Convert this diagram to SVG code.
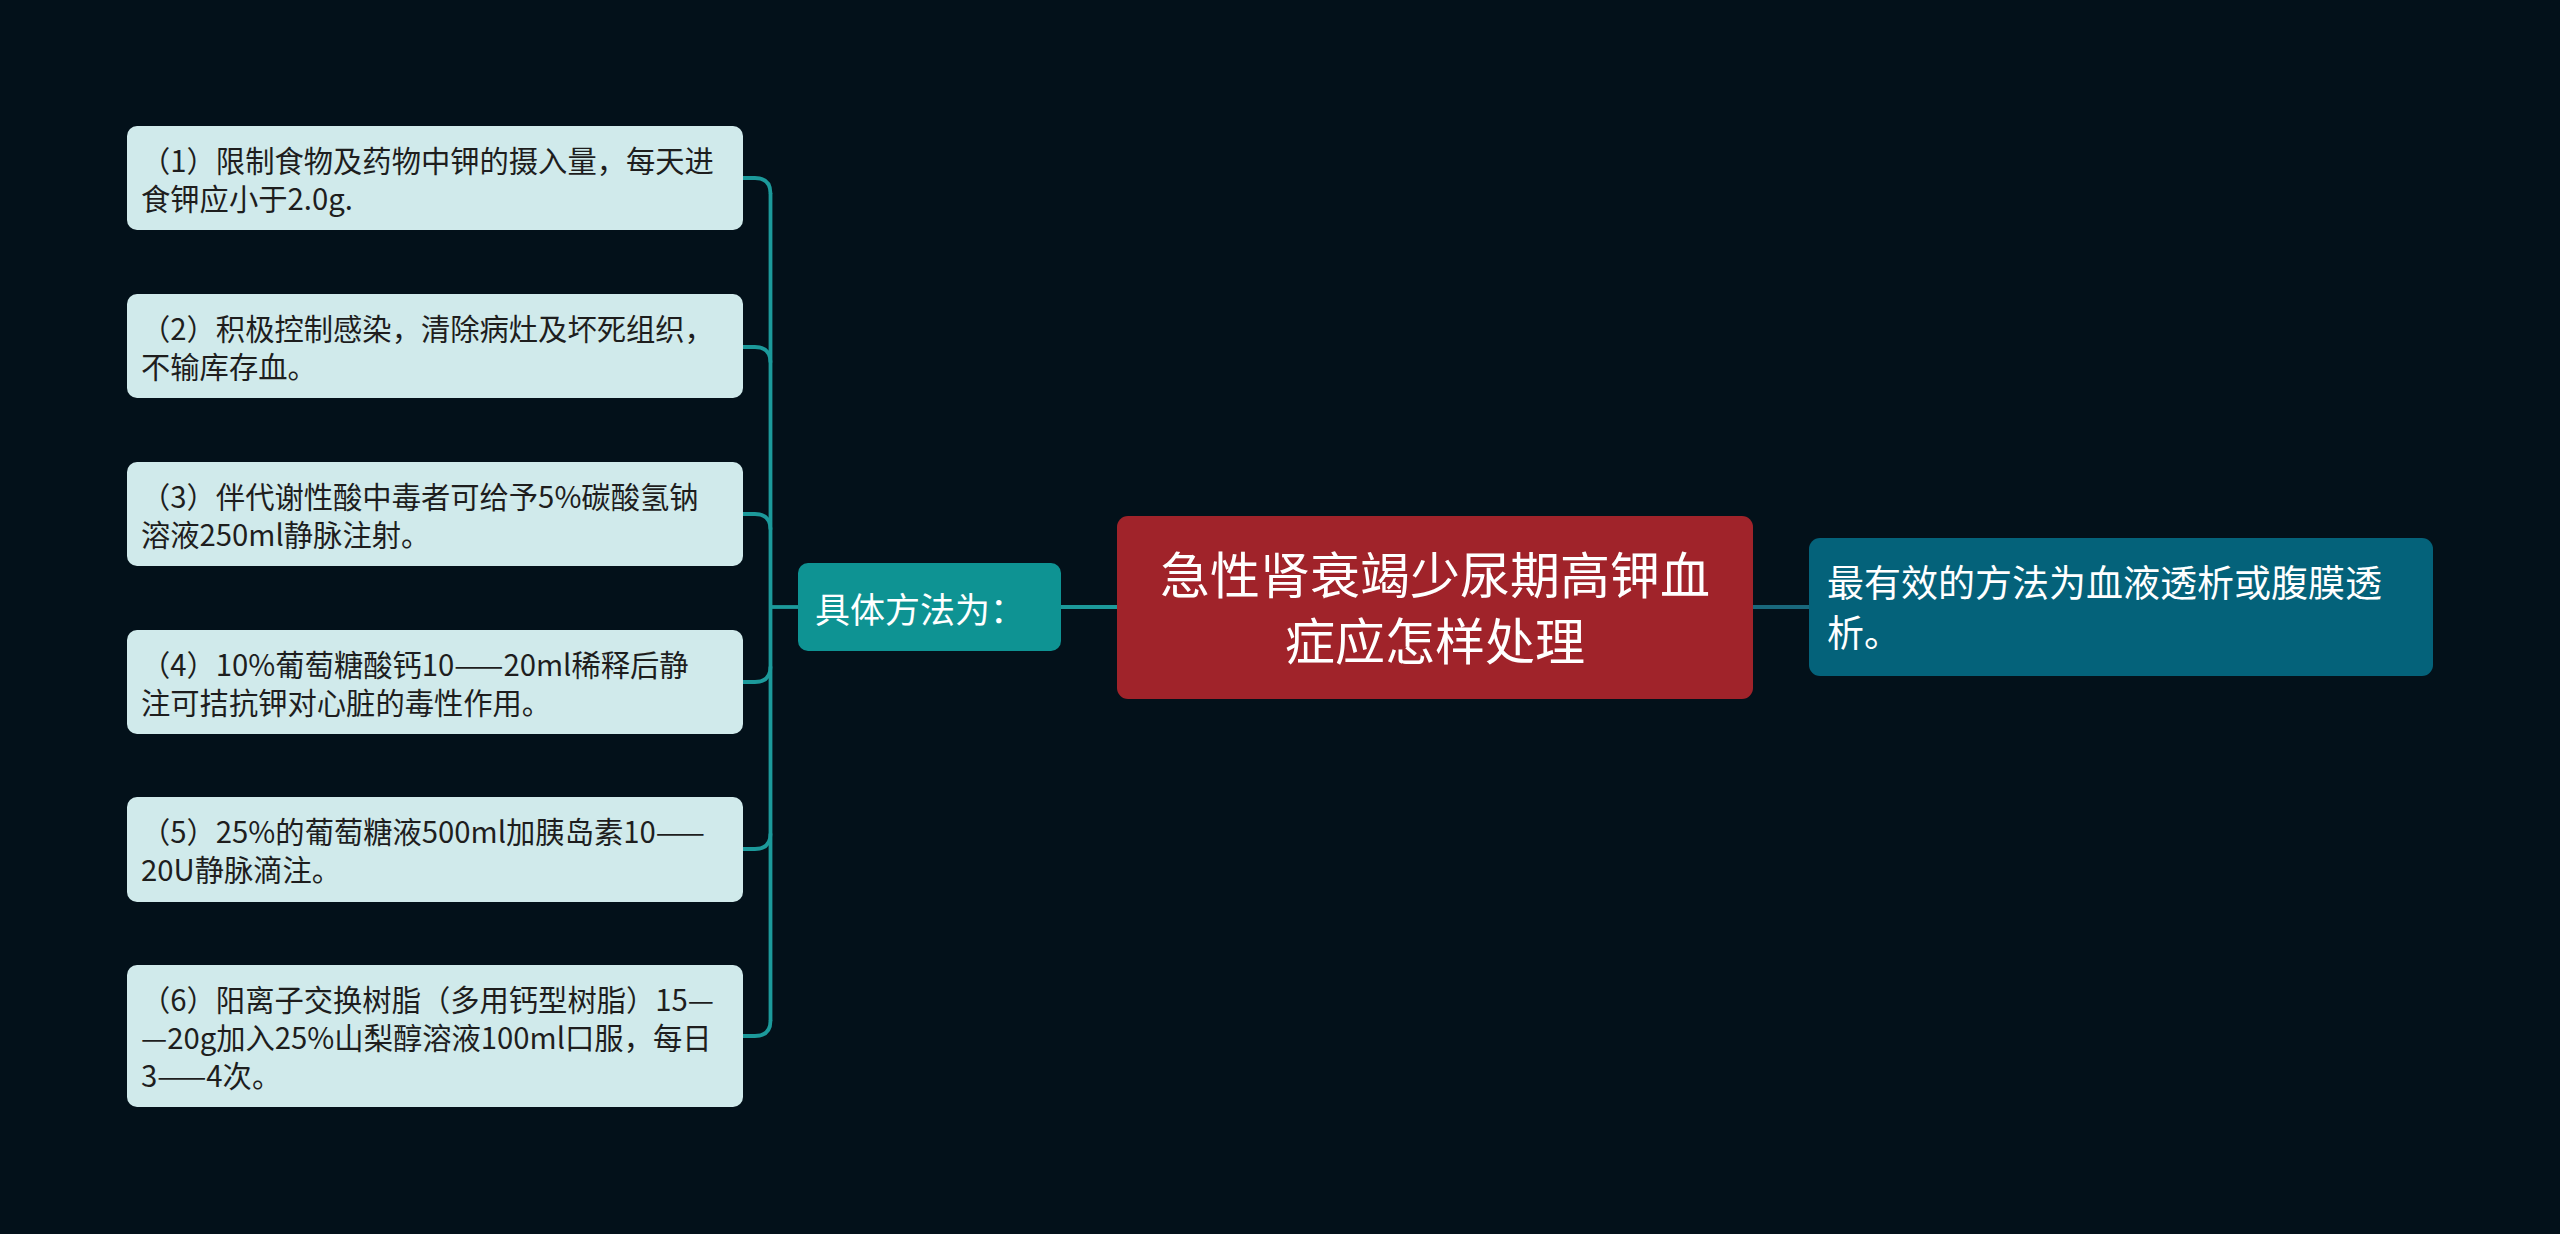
<svg xmlns="http://www.w3.org/2000/svg" width="2560" height="1234" viewBox="0 0 2560 1234">
<style>
.leaf rect{fill:#d0eaeb;}
.leaf text{font-family:"Noto Sans CJK SC","Noto Sans",sans-serif;font-size:29.3px;fill:#1e1e1e;}
.wt{font-family:"Noto Sans CJK SC","Noto Sans",sans-serif;fill:#ffffff;}
.conn{fill:none;stroke:#1c9a9b;stroke-width:3.8;}
</style>
<rect x="0" y="0" width="2560" height="1234" fill="#03111a"/>
<g id="connectors">
<path class="conn" d="M770.5,193 V1021"/>
<path class="conn" d="M742,178 H755 Q770.5,178 770.5,193.5"/>
<path class="conn" d="M742,347 H755 Q770.5,347 770.5,362.5"/>
<path class="conn" d="M742,514 H755 Q770.5,514 770.5,529.5"/>
<path class="conn" d="M742,682 H755 Q770.5,682 770.5,666.5"/>
<path class="conn" d="M742,849 H755 Q770.5,849 770.5,833.5"/>
<path class="conn" d="M742,1036 H755 Q770.5,1036 770.5,1020.5"/>
<path class="conn" d="M770.5,607 H800"/>
<path class="conn" d="M1060,607 H1118" stroke-width="4"/>
<path class="conn" d="M1752,607 H1810" style="stroke:#19687c"/>
</g>
<g id="center">
<rect x="1117" y="516" width="636" height="183" rx="11" fill="#a0232a"/>
<text class="wt" font-size="50" text-anchor="middle" x="1435" y="594">急性肾衰竭少尿期高钾血</text>
<text class="wt" font-size="50" text-anchor="middle" x="1435" y="660">症应怎样处理</text>
</g>
<g id="branch">
<rect x="798" y="563" width="263" height="88" rx="10" fill="#0e9393"/>
<text class="wt" font-size="35" x="815" y="623">具体方法为：</text>
</g>
<g id="right">
<rect x="1809" y="538" width="624" height="138" rx="11" fill="#04627a"/>
<text class="wt" font-size="37" x="1827" y="597">最有效的方法为血液透析或腹膜透</text>
<text class="wt" font-size="37" x="1827" y="647">析。</text>
</g>
<g id="leaf1" class="leaf">
<rect x="127" y="126" width="616" height="104" rx="10"/>
<text x="141" y="172">（1）限制食物及药物中钾的摄入量，每天进</text>
<text x="141" y="210">食钾应小于2.0g.</text>
</g>
<g id="leaf2" class="leaf">
<rect x="127" y="294" width="616" height="104" rx="10"/>
<text x="141" y="340">（2）积极控制感染，清除病灶及坏死组织，</text>
<text x="141" y="378">不输库存血。</text>
</g>
<g id="leaf3" class="leaf">
<rect x="127" y="462" width="616" height="104" rx="10"/>
<text x="141" y="508">（3）伴代谢性酸中毒者可给予5%碳酸氢钠</text>
<text x="141" y="546">溶液250ml静脉注射。</text>
</g>
<g id="leaf4" class="leaf">
<rect x="127" y="630" width="616" height="104" rx="10"/>
<text x="141" y="676">（4）10%葡萄糖酸钙10——20ml稀释后静</text>
<text x="141" y="714">注可拮抗钾对心脏的毒性作用。</text>
</g>
<g id="leaf5" class="leaf">
<rect x="127" y="797" width="616" height="105" rx="10"/>
<text x="141" y="843">（5）25%的葡萄糖液500ml加胰岛素10——</text>
<text x="141" y="881">20U静脉滴注。</text>
</g>
<g id="leaf6" class="leaf">
<rect x="127" y="965" width="616" height="142" rx="10"/>
<text x="141" y="1011">（6）阳离子交换树脂（多用钙型树脂）15—</text>
<text x="141" y="1049">—20g加入25%山梨醇溶液100ml口服，每日</text>
<text x="141" y="1087">3——4次。</text>
</g>
</svg>
